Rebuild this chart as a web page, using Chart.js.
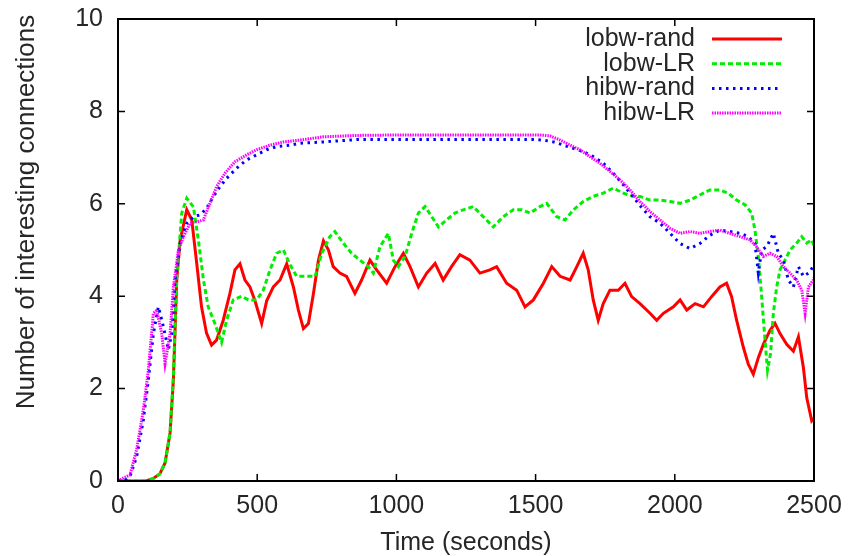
<!DOCTYPE html>
<html>
<head>
<meta charset="utf-8">
<title>Number of interesting connections</title>
<script src="https://cdn.jsdelivr.net/npm/chart.js@4.4.1/dist/chart.umd.min.js"></script>
<style>
    html, body { margin: 0; padding: 0; background: #fff; }
    #wrap { width: 862px; height: 556px; position: relative; }
</style>
</head>
<body>
<div id="wrap"><canvas id="myChart"></canvas></div>
<script>
// values: time (seconds) / number of connections
const lobwRandT = [0, 50, 100, 125, 150, 169, 187, 199, 211, 223, 247, 265, 283, 300, 318, 336, 354, 378, 402, 420, 438, 456, 474, 492, 516, 534, 558, 582, 606, 630, 648, 666, 684, 702, 720, 738, 756, 773, 797, 821, 851, 875, 905, 929, 965, 995, 1025, 1049, 1079, 1109, 1139, 1168, 1198, 1228, 1264, 1300, 1336, 1360, 1396, 1432, 1462, 1492, 1528, 1558, 1588, 1624, 1648, 1671, 1689, 1707, 1725, 1743, 1767, 1797, 1821, 1845, 1875, 1911, 1935, 1959, 1995, 2019, 2043, 2073, 2103, 2132, 2162, 2186, 2204, 2222, 2246, 2264, 2282, 2300, 2318, 2342, 2360, 2378, 2402, 2426, 2444, 2462, 2474, 2492, 2500]
const lobwRandV = [0, 0, 0, 0.05, 0.15, 0.39, 1.04, 2.19, 4.35, 5.2, 5.87, 5.65, 4.7, 3.77, 3.2, 2.94, 3.05, 3.48, 4.06, 4.57, 4.7, 4.35, 4.2, 3.9, 3.41, 3.9, 4.2, 4.35, 4.7, 4.2, 3.7, 3.3, 3.41, 4.06, 4.78, 5.2, 5.0, 4.64, 4.5, 4.43, 4.06, 4.35, 4.78, 4.57, 4.28, 4.64, 4.93, 4.64, 4.2, 4.5, 4.71, 4.35, 4.64, 4.9, 4.78, 4.5, 4.57, 4.64, 4.28, 4.13, 3.77, 3.92, 4.28, 4.64, 4.43, 4.35, 4.64, 4.93, 4.57, 3.92, 3.48, 3.84, 4.13, 4.13, 4.28, 3.99, 3.84, 3.63, 3.48, 3.63, 3.77, 3.92, 3.7, 3.84, 3.77, 3.99, 4.2, 4.28, 3.99, 3.48, 2.9, 2.53, 2.31, 2.67, 2.96, 3.26, 3.41, 3.19, 2.96, 2.81, 3.12, 2.45, 1.8, 1.3, 1.35]

const lobwLRT = [0, 50, 100, 125, 150, 169, 187, 199, 211, 229, 247, 271, 289, 307, 324, 348, 372, 390, 414, 444, 468, 498, 522, 546, 570, 594, 618, 642, 678, 708, 732, 761, 779, 809, 839, 869, 899, 917, 941, 971, 989, 1007, 1031, 1055, 1079, 1103, 1127, 1151, 1180, 1210, 1240, 1276, 1312, 1348, 1384, 1420, 1450, 1480, 1516, 1540, 1576, 1606, 1636, 1671, 1707, 1743, 1779, 1815, 1851, 1875, 1911, 1947, 1983, 2019, 2055, 2090, 2126, 2162, 2192, 2222, 2252, 2276, 2288, 2300, 2312, 2324, 2333, 2344, 2354, 2366, 2378, 2396, 2414, 2438, 2456, 2474, 2492, 2500]
const lobwLRV = [0, 0, 0, 0.05, 0.15, 0.39, 1.04, 2.3, 4.4, 5.8, 6.12, 5.93, 5.2, 4.35, 3.77, 3.41, 3.0, 3.48, 3.92, 4.0, 3.92, 3.92, 4.13, 4.57, 4.93, 5.0, 4.68, 4.43, 4.43, 4.43, 4.93, 5.29, 5.4, 5.15, 4.93, 4.78, 4.64, 4.5, 5.07, 5.36, 4.78, 4.64, 4.86, 5.36, 5.8, 5.94, 5.72, 5.5, 5.65, 5.8, 5.87, 5.94, 5.72, 5.5, 5.72, 5.87, 5.87, 5.8, 5.94, 6.01, 5.72, 5.65, 5.87, 6.05, 6.16, 6.23, 6.34, 6.23, 6.16, 6.16, 6.08, 6.08, 6.05, 6.01, 6.08, 6.19, 6.3, 6.3, 6.23, 6.08, 5.98, 5.8, 5.43, 4.86, 3.99, 3.05, 2.4, 2.76, 3.63, 4.2, 4.57, 4.78, 5.0, 5.15, 5.29, 5.15, 5.22, 5.1]

const hibwRandT = [0, 25, 43, 67, 91, 109, 127, 145, 163, 181, 193, 205, 223, 247, 271, 295, 318, 342, 366, 390, 426, 462, 498, 534, 570, 618, 654, 738, 858, 1000, 1200, 1492, 1528, 1564, 1600, 1636, 1671, 1707, 1743, 1779, 1815, 1851, 1875, 1911, 1947, 1983, 2019, 2055, 2090, 2126, 2162, 2198, 2234, 2264, 2288, 2300, 2312, 2330, 2354, 2372, 2390, 2408, 2426, 2444, 2462, 2480, 2497, 2500]
const hibwRandV = [0, 0.02, 0.1, 0.53, 1.32, 2.19, 3.19, 3.77, 3.34, 2.84, 3.19, 4.35, 5.14, 5.58, 5.72, 5.76, 5.9, 6.15, 6.37, 6.55, 6.77, 6.95, 7.06, 7.17, 7.24, 7.27, 7.31, 7.34, 7.39, 7.39, 7.39, 7.39, 7.38, 7.34, 7.27, 7.2, 7.13, 7.02, 6.88, 6.66, 6.41, 6.15, 5.96, 5.72, 5.58, 5.36, 5.14, 5.03, 5.14, 5.32, 5.43, 5.4, 5.36, 5.29, 5.14, 4.5, 5.0, 5.07, 5.36, 4.93, 4.78, 4.35, 4.2, 4.64, 4.43, 4.5, 4.64, 4.6]

const hibwLRT = [0, 14, 43, 67, 91, 109, 127, 139, 157, 169, 187, 199, 217, 235, 259, 283, 307, 330, 354, 384, 420, 462, 498, 546, 594, 654, 738, 858, 1000, 1200, 1516, 1552, 1588, 1624, 1659, 1695, 1731, 1767, 1803, 1839, 1875, 1911, 1947, 1983, 2019, 2055, 2090, 2126, 2162, 2198, 2234, 2270, 2294, 2318, 2342, 2366, 2390, 2414, 2438, 2456, 2468, 2480, 2497, 2500]
const hibwLRV = [0, 0.05, 0.13, 0.68, 1.54, 2.4, 3.63, 3.7, 3.19, 2.54, 3.19, 4.2, 5.0, 5.29, 5.58, 5.61, 5.65, 6.01, 6.37, 6.66, 6.91, 7.06, 7.17, 7.27, 7.34, 7.38, 7.45, 7.48, 7.49, 7.49, 7.49, 7.47, 7.38, 7.27, 7.17, 7.02, 6.88, 6.7, 6.52, 6.3, 6.05, 5.83, 5.65, 5.47, 5.36, 5.4, 5.36, 5.4, 5.43, 5.36, 5.29, 5.22, 5.07, 4.86, 4.93, 4.86, 4.64, 4.5, 4.35, 4.13, 3.63, 4.2, 4.35, 4.4]

const seriesNames = ['lobw-rand', 'lobw-LR', 'hibw-rand', 'hibw-LR']
const xTicks = [0, 500, 1000, 1500, 2000, 2500]
const yTicks = [0, 2, 4, 6, 8, 10]

const FONT = '"Liberation Sans", Arial, Helvetica, sans-serif'
const TEXT = '#262626'

function pts(ts, vs) {
    return ts.map((t, i) => ({ x: t, y: vs[i] }))
}

const styles = [
    { color: '#ff0000', width: 3, dash: [] },
    { color: '#00ee00', width: 3, dash: [5, 3] },
    { color: '#0000ff', width: 3, dash: [2.5, 4.5] },
    { color: '#ff00ff', width: 3, dash: [1.5, 1] }
]

// frame, inward ticks on all four sides, legend and axis titles
const framePlugin = {
    id: 'frame',
    afterDatasetsDraw(chart) {
        const ctx = chart.ctx
        const a = chart.chartArea
        const xs = chart.scales.x
        const ys = chart.scales.y
        ctx.save()
        ctx.strokeStyle = '#000'
        ctx.lineWidth = 1.5
        ctx.setLineDash([])
        ctx.beginPath()
        xTicks.forEach(v => {
            const px = xs.getPixelForValue(v)
            ctx.moveTo(px, a.bottom); ctx.lineTo(px, a.bottom - 7)
            ctx.moveTo(px, a.top); ctx.lineTo(px, a.top + 7)
        })
        yTicks.forEach(v => {
            const py = ys.getPixelForValue(v)
            ctx.moveTo(a.left, py); ctx.lineTo(a.left + 7, py)
            ctx.moveTo(a.right, py); ctx.lineTo(a.right - 7, py)
        })
        ctx.stroke()
        ctx.lineWidth = 2
        ctx.strokeRect(a.left, a.top, a.right - a.left, a.bottom - a.top)

        // legend, top right inside the plot
        ctx.font = '25px ' + FONT
        ctx.fillStyle = TEXT
        ctx.textAlign = 'right'
        ctx.textBaseline = 'middle'
        seriesNames.forEach((name, i) => {
            const y = 39 + i * 24.7
            ctx.fillText(name, 695, y)
            const s = styles[i]
            ctx.strokeStyle = s.color
            ctx.lineWidth = s.width
            ctx.setLineDash(s.dash)
            ctx.beginPath()
            ctx.moveTo(712, y)
            ctx.lineTo(782, y)
            ctx.stroke()
        })
        ctx.setLineDash([])

        // axis titles
        ctx.textAlign = 'center'
        ctx.fillText('Time (seconds)', (a.left + a.right) / 2, 543)
        ctx.translate(27, 212)
        ctx.rotate(-Math.PI / 2)
        ctx.font = '26px ' + FONT
        ctx.fillText('Number of interesting connections', 0, 0)
        ctx.restore()
    }
}

const data = {
    datasets: [
        { label: seriesNames[0], data: pts(lobwRandT, lobwRandV), order: 3 },
        { label: seriesNames[1], data: pts(lobwLRT, lobwLRV), order: 2 },
        { label: seriesNames[2], data: pts(hibwRandT, hibwRandV), order: 1 },
        { label: seriesNames[3], data: pts(hibwLRT, hibwLRV), order: 0 }
    ].map((d, i) => Object.assign(d, {
        borderColor: styles[i].color,
        borderWidth: styles[i].width,
        borderDash: styles[i].dash,
        pointRadius: 0,
        tension: 0,
        fill: false
    }))
}

const config = {
    type: 'line',
    data: data,
    options: {
        responsive: true,
        maintainAspectRatio: false,
        animation: false,
        layout: { padding: { top: 19, right: 48, left: 0, bottom: 0 } },
        plugins: {
            legend: { display: false },
            tooltip: { enabled: false }
        },
        scales: {
            x: {
                type: 'linear',
                min: 0,
                max: 2500,
                afterBuildTicks: s => { s.ticks = xTicks.map(v => ({ value: v })) },
                afterFit: s => { s.height = 75; s.paddingLeft = 0; s.paddingRight = 0 },
                ticks: {
                    font: { family: FONT, size: 25 },
                    color: TEXT,
                    padding: 10,
                    maxRotation: 0,
                    autoSkip: false,
                    callback: v => String(v)
                },
                grid: { display: false, drawTicks: false },
                border: { display: false }
            },
            y: {
                type: 'linear',
                min: 0,
                max: 10,
                afterBuildTicks: s => { s.ticks = yTicks.map(v => ({ value: v })) },
                afterFit: s => { s.width = 118; s.paddingTop = 0; s.paddingBottom = 0 },
                ticks: {
                    font: { family: FONT, size: 25 },
                    color: TEXT,
                    padding: 15,
                    callback: v => String(v)
                },
                grid: { display: false, drawTicks: false },
                border: { display: false }
            }
        }
    },
    plugins: [framePlugin]
}

const myChart = new Chart(document.getElementById('myChart'), config)
</script>
</body>
</html>
